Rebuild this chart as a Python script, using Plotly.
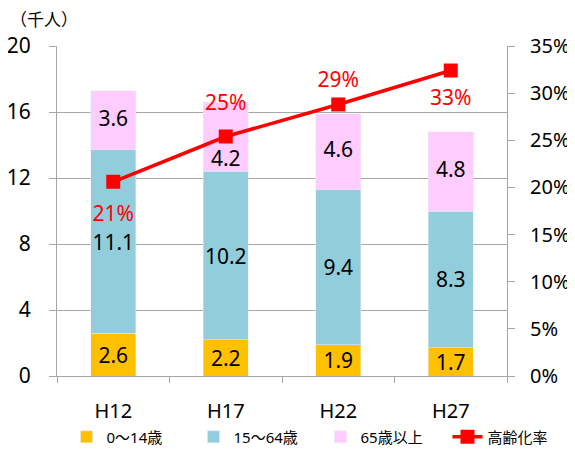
import plotly.graph_objects as go

categories = ["H12", "H17", "H22", "H27"]
age_0_14 = [2.6, 2.2, 1.9, 1.7]
age_15_64 = [11.1, 10.2, 9.4, 8.3]
age_65_plus = [3.6, 4.2, 4.6, 4.8]
aging_rate = [20.6, 25.4, 28.8, 32.4]
aging_rate_labels = ["21%", "25%", "29%", "33%"]

FONT = "Noto Sans, Noto Sans CJK JP, sans-serif"
GRID = "#A6A6A6"

fig = go.Figure()

def fmt(vals):
    return [f"{v:.1f}" for v in vals]

for vals, name, color in [(age_0_14, "0～14歳", "#FFC000"),
                          (age_15_64, "15～64歳", "#92CDDC")]:
    fig.add_trace(go.Bar(
        x=categories, y=vals, name=name, marker_color=color,
        text=fmt(vals), textposition="inside", insidetextanchor="middle",
        textangle=0, constraintext="none",
        textfont=dict(size=21, color="black"), hoverinfo="skip"))

fig.add_trace(go.Bar(
    x=categories, y=age_65_plus, name="65歳以上", marker_color="#FFCCFF",
    hoverinfo="skip"))

# labels for the 65+ segment: centred, except H17 which sits at the segment's bottom
base = [a + b for a, b in zip(age_0_14, age_15_64)]
mid65 = [b + c / 2 for b, c in zip(base, age_65_plus)]
label_y = [base[i] if categories[i] == "H17" else mid65[i] for i in range(len(categories))]
label_pos = ["top center" if c == "H17" else "middle center" for c in categories]
fig.add_trace(go.Scatter(
    x=categories, y=label_y, mode="text", text=fmt(age_65_plus),
    textposition=label_pos,
    textfont=dict(size=21, color="black"), showlegend=False, hoverinfo="skip"))

fig.add_trace(go.Scatter(
    x=categories, y=aging_rate, name="高齢化率", yaxis="y2",
    mode="lines+markers",
    line=dict(color="#FF0000", width=3.5),
    marker=dict(symbol="square", size=14, color="#FF0000"),
    hoverinfo="skip"))
# rate labels (invisible markers give the label offset)
fig.add_trace(go.Scatter(
    x=categories, y=aging_rate, yaxis="y2", mode="markers+text",
    marker=dict(size=[36, 32, 18, 28], opacity=0),
    text=aging_rate_labels,
    textposition=["bottom center", "top center", "top center", "bottom center"],
    textfont=dict(size=21, color="#FF0000"),
    showlegend=False, hoverinfo="skip"))

# page has an 8px body margin, so the figure is drawn 8px in from the top-left
fig.update_layout(
    width=567, height=454,
    margin=dict(l=49, r=68, t=38, b=86, autoexpand=False),
    barmode="stack", bargap=0.6,
    plot_bgcolor="white", paper_bgcolor="white",
    font=dict(family=FONT, size=20, color="black"),
    xaxis=dict(showline=True, linecolor=GRID, ticks="outside", tickson="boundaries",
               ticklen=6, tickcolor=GRID, tickfont=dict(size=20),
               ticklabelstandoff=17),
    yaxis=dict(range=[0, 20], dtick=4, showgrid=True, gridcolor=GRID, gridwidth=1,
               showline=True, linecolor=GRID, ticks="outside", ticklen=7,
               tickcolor=GRID, tickfont=dict(size=21), zeroline=False,
               ticklabelstandoff=14),
    yaxis2=dict(range=[0, 35], dtick=5, ticksuffix="%", overlaying="y", side="right",
                showgrid=False, showline=True, linecolor=GRID, ticks="outside",
                ticklen=7, tickcolor=GRID, tickfont=dict(size=20), zeroline=False,
                ticklabelstandoff=11),
    legend=dict(orientation="h", x=1.15, xanchor="right", y=-0.185,
                yanchor="middle", font=dict(size=15), traceorder="normal",
                entrywidth=82),
    annotations=[dict(text="（千人）", xref="paper", yref="paper", x=-0.108, y=1.079,
                      xanchor="left", yanchor="middle", showarrow=False,
                      font=dict(size=17))],
)

fig.write_html("out.html")
